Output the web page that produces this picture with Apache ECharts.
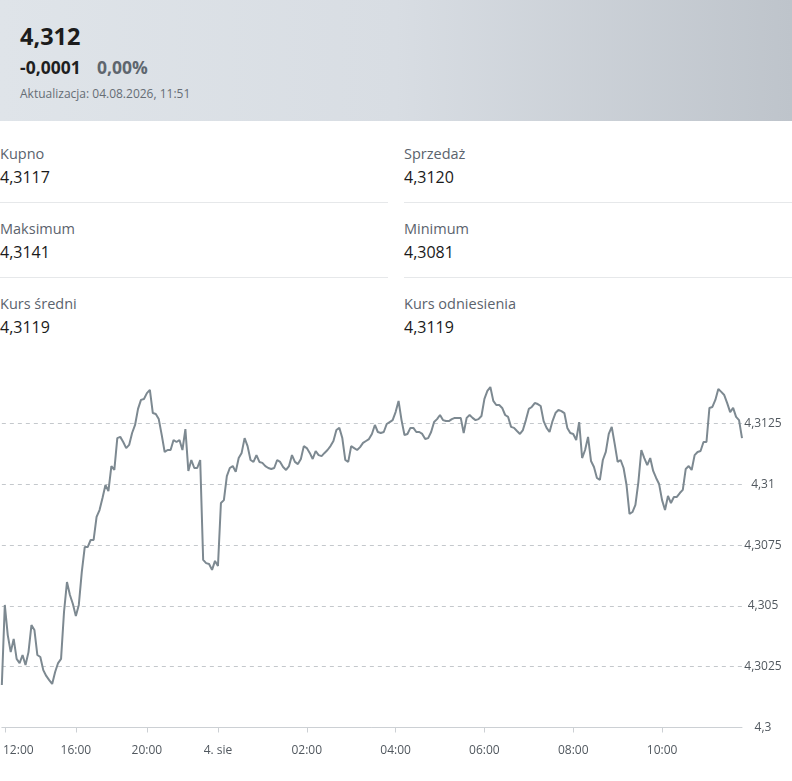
<!DOCTYPE html>
<html>
<head>
<meta charset="utf-8">
<script src="https://cdn.jsdelivr.net/npm/echarts@6/dist/echarts.min.js"></script>
<style>
  html, body { margin: 0; padding: 0; }
  body { width: 792px; height: 781px; overflow: hidden; background: #fff; position: relative; font-family: "Open Sans", "Noto Sans", sans-serif; }
  .hdr { position: absolute; left: 0; top: 0; width: 792px; height: 121px; background: linear-gradient(90deg, #dfe4e9 0%, #d8dde3 50%, #bec4cb 100%); }
  .abs { position: absolute; white-space: nowrap; line-height: normal; }
  .price { left: 20px; top: 20px; font-size: 23.5px; font-weight: 700; color: #1c1c1c; }
  .chg { left: 20px; top: 54.5px; font-size: 17.5px; font-weight: 700; color: #1f1f1f; }
  .pct { left: 97px; top: 54.5px; font-size: 17.5px; font-weight: 700; color: #5e666e; }
  .upd { left: 20px; top: 84.7px; font-size: 12px; color: #666d75; }
  .lbl { font-size: 14.5px; color: #5b636d; }
  .val { font-size: 16px; color: #1a1a1a; }
  .div { position: absolute; height: 1px; background: #e6e8ea; }
  #chart { position: absolute; left: 0; top: 340px; width: 792px; height: 441px; }
</style>
</head>
<body>
<div class="hdr"></div>
<div class="abs price">4,312</div>
<div class="abs chg">-0,0001</div>
<div class="abs pct">0,00%</div>
<div class="abs upd">Aktualizacja: 04.08.2026, 11:51</div>

<div class="abs lbl" style="left:0;top:143.5px">Kupno</div>
<div class="abs val" style="left:0;top:166px">4,3117</div>
<div class="abs lbl" style="left:404px;top:143.5px">Sprzedaż</div>
<div class="abs val" style="left:404px;top:166px">4,3120</div>
<div class="div" style="left:0;width:388px;top:202px"></div>
<div class="div" style="left:404px;width:388px;top:202px"></div>

<div class="abs lbl" style="left:0;top:218.5px">Maksimum</div>
<div class="abs val" style="left:0;top:241px">4,3141</div>
<div class="abs lbl" style="left:404px;top:218.5px">Minimum</div>
<div class="abs val" style="left:404px;top:241px">4,3081</div>
<div class="div" style="left:0;width:388px;top:277px"></div>
<div class="div" style="left:404px;width:388px;top:277px"></div>

<div class="abs lbl" style="left:0;top:293.5px">Kurs średni</div>
<div class="abs val" style="left:0;top:316px">4,3119</div>
<div class="abs lbl" style="left:404px;top:293.5px">Kurs odniesienia</div>
<div class="abs val" style="left:404px;top:316px">4,3119</div>

<div id="chart"></div>
<script>
// Rate, 3 Aug 11:50 -> 4 Aug 11:48 (10-min steps before midnight, 4-min steps after)
const rateBefore = [
  4.30175, 4.30504, 4.30380, 4.30310, 4.30364, 4.30282, 4.30265, 4.30298, 4.30257, 4.30310,
  4.30421, 4.30401, 4.30298, 4.30290, 4.30236, 4.30212, 4.30195, 4.30179, 4.30228, 4.30265,
  4.30282, 4.30475, 4.30598, 4.30545, 4.30508, 4.30458, 4.30504, 4.30639, 4.30742, 4.30742,
  4.30771, 4.30771, 4.30866, 4.30894, 4.30944, 4.30997, 4.30972, 4.31075, 4.31059, 4.31190,
  4.31195, 4.31174, 4.31149, 4.31162, 4.31211, 4.31244, 4.31310, 4.31347, 4.31351, 4.31375,
  4.31388, 4.31293, 4.31289, 4.31268, 4.31203, 4.31133, 4.31141, 4.31141, 4.31182, 4.31174,
  4.31182, 4.31141, 4.31227, 4.31055, 4.31100, 4.31067, 4.31067, 4.31100, 4.30689, 4.30676,
  4.30672, 4.30648, 4.30685
];
const rateAfter = [
  4.30664, 4.30923, 4.30935, 4.31034, 4.31067, 4.31075, 4.31051, 4.31108, 4.31129, 4.31190,
  4.31157, 4.31100, 4.31092, 4.31120, 4.31092, 4.31088, 4.31075, 4.31067, 4.31063, 4.31067,
  4.31100, 4.31092, 4.31071, 4.31059, 4.31075, 4.31120, 4.31092, 4.31083, 4.31104, 4.31157,
  4.31149, 4.31129, 4.31104, 4.31137, 4.31120, 4.31116, 4.31129, 4.31141, 4.31157, 4.31178,
  4.31223, 4.31232, 4.31190, 4.31100, 4.31092, 4.31157, 4.31149, 4.31141, 4.31153, 4.31170,
  4.31178, 4.31186, 4.31207, 4.31244, 4.31215, 4.31211, 4.31215, 4.31248, 4.31256, 4.31264,
  4.31297, 4.31343, 4.31264, 4.31203, 4.31207, 4.31232, 4.31232, 4.31215, 4.31215, 4.31207,
  4.31186, 4.31190, 4.31215, 4.31256, 4.31268, 4.31285, 4.31264, 4.31260, 4.31260, 4.31268,
  4.31273, 4.31273, 4.31273, 4.31211, 4.31273, 4.31285, 4.31273, 4.31264, 4.31268, 4.31281,
  4.31351, 4.31384, 4.31400, 4.31343, 4.31326, 4.31326, 4.31314, 4.31285, 4.31277, 4.31236,
  4.31232, 4.31219, 4.31207, 4.31223, 4.31264, 4.31310, 4.31318, 4.31334, 4.31330, 4.31322,
  4.31260, 4.31232, 4.31215, 4.31260, 4.31293, 4.31306, 4.31301, 4.31293, 4.31232, 4.31211,
  4.31207, 4.31182, 4.31256, 4.31108, 4.31141, 4.31195, 4.31096, 4.31071, 4.31026, 4.31018,
  4.31100, 4.31133, 4.31207, 4.31236, 4.31166, 4.31092, 4.31100, 4.31067, 4.30997, 4.30878,
  4.30886, 4.30915, 4.31009, 4.31141, 4.31108, 4.31079, 4.31108, 4.31055, 4.31026, 4.31001,
  4.30935, 4.30894, 4.30952, 4.30923, 4.30948, 4.30948, 4.30964, 4.30977, 4.31063, 4.31075,
  4.31059, 4.31120, 4.31133, 4.31137, 4.31174, 4.31174, 4.31314, 4.31318, 4.31347, 4.31392,
  4.31380, 4.31367, 4.31334, 4.31297, 4.31314, 4.31277, 4.31264, 4.31190
];
const tickCats = ['03 12:00', '03 16:00', '03 20:00', '04 00:00', '04 02:00', '04 04:00', '04 06:00', '04 08:00', '04 10:00'];
const tickLabels = ['12:00', '16:00', '20:00', '4. sie', '02:00', '04:00', '06:00', '08:00', '10:00'];
const yTicks = [4.3, 4.3025, 4.305, 4.3075, 4.31, 4.3125];
const yMax = 4.3145;

function hhmm(m) {
  const h = Math.floor(m / 60), mm = m % 60;
  return (h < 10 ? '0' : '') + h + ':' + (mm < 10 ? '0' : '') + mm;
}
const categories = [];
for (let i = 0; i < rateBefore.length; i++) categories.push('03 ' + hhmm(11 * 60 + 50 + i * 10));
for (let i = 0; i < rateAfter.length; i++) categories.push('04 ' + hhmm(i * 4));
const values = rateBefore.concat(rateAfter);

const isTick = (idx, val) => tickCats.indexOf(val) >= 0;

const chart = echarts.init(document.getElementById('chart'), null, { renderer: 'canvas' });
chart.setOption({
  animation: false,
  grid: { left: -1.27, right: 50, top: 34.86, bottom: 53.5 },
  xAxis: {
    type: 'category',
    data: categories,
    boundaryGap: false,
    axisLine: { show: true, lineStyle: { color: '#ccd0d4', width: 1 } },
    axisTick: { show: true, interval: isTick, length: 5, lineStyle: { color: '#ccd0d4' } },
    axisLabel: {
      interval: isTick,
      margin: 17,
      color: '#51585f',
      fontSize: 12,
      fontFamily: 'Open Sans',
      formatter: function (val) {
        const k = tickCats.indexOf(val);
        if (k === 0) return '{first|' + tickLabels[k] + '}';
        return k >= 0 ? tickLabels[k] : '';
      },
      rich: { first: { padding: [0, 0, 0, 27], fontSize: 12, color: '#51585f', fontFamily: 'Open Sans' } }
    },
    splitLine: { show: false }
  },
  yAxis: {
    type: 'value',
    position: 'right',
    min: yTicks[0],
    max: yMax,
    interval: yTicks[1] - yTicks[0],
    axisLine: { show: false },
    axisTick: { show: false },
    axisLabel: {
      showMaxLabel: false,
      align: 'center',
      margin: 21,
      color: '#51585f',
      fontSize: 12,
      fontFamily: 'Open Sans',
      formatter: function (v) { return String(Number(v.toFixed(4))).replace('.', ','); }
    },
    splitLine: { show: true, showMaxLine: false, showMinLine: false, lineStyle: { color: '#c4c8cc', type: [4, 4], width: 1 } }
  },
  series: [{
    type: 'line',
    data: values,
    symbol: 'none',
    smooth: false,
    lineStyle: { color: '#7d8991', width: 2 },
    clip: true
  }]
});
</script>
</body>
</html>
